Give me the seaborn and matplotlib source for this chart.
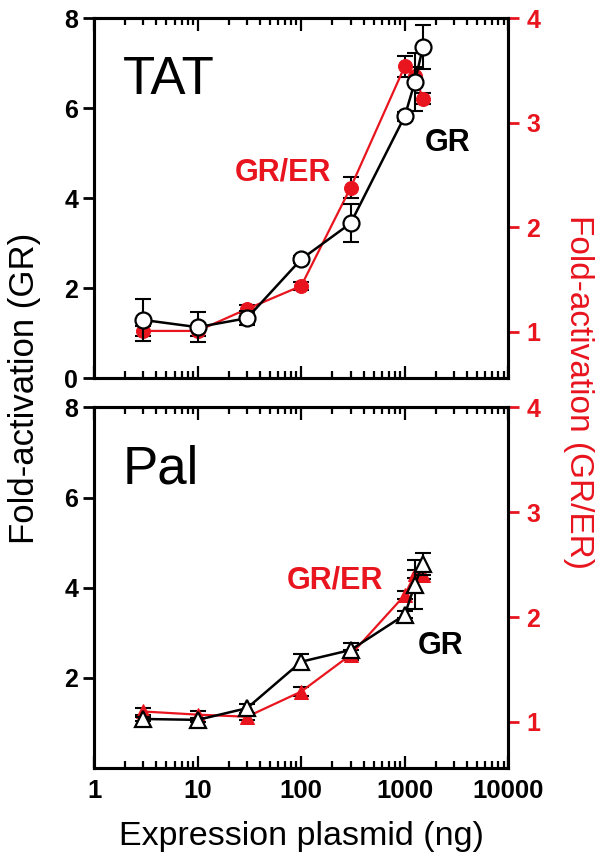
import matplotlib
matplotlib.use("Agg")
import matplotlib.pyplot as plt
import seaborn as sns
import pandas as pd

sns.set_theme(style="ticks")
plt.rcParams['font.family'] = ['Liberation Sans', 'DejaVu Sans']
plt.rcParams.update({'text.color': 'black', 'axes.labelcolor': 'black',
                     'xtick.color': 'black', 'ytick.color': 'black'})

RED = '#e8141e'

# plasmid amounts (ng)
plasmid_ng = [3, 10, 30, 100, 300, 1000, 1250, 1500]

# TAT panel
tat_gr = [1.29, 1.13, 1.33, 2.64, 3.44, 5.82, 6.58, 7.36]
tat_gr_err = [0.47, 0.33, 0.15, 0.08, 0.42, 0.10, 0.65, 0.48]
tat_grer = [1.01, 1.01, 1.22, 1.44, 2.38, 3.54, 3.45, 3.23]
tat_grer_err = [0.05, 0.05, 0.04, 0.04, 0.10, 0.10, 0.08, 0.05]

# Pal panel
pal_gr = [1.09, 1.07, 1.33, 2.36, 2.62, 3.40, 4.07, 4.53]
pal_gr_err = [0.05, 0.04, 0.10, 0.17, 0.15, 0.08, 0.55, 0.25]
pal_grer = [1.10, 1.07, 1.05, 1.29, 1.64, 2.21, 2.41, 2.40]
pal_grer_err = [0.03, 0.03, 0.03, 0.04, 0.05, 0.04, 0.04, 0.04]

xticks = [1, 10, 100, 1000, 10000]
xtick_labels = ['1', '10', '100', '1000', '10000']


def draw_panel(ax, gr, gr_err, grer, grer_err, marker, name, show_zero):
    df = pd.DataFrame({'ng': plasmid_ng, 'gr': gr, 'grer': grer})
    tw = ax.twinx()
    # red series on the right axis
    tw.errorbar(plasmid_ng, grer, yerr=grer_err, fmt='none', ecolor='black',
                elinewidth=1.5, capsize=6, capthick=1.5, zorder=1)
    sns.lineplot(data=df, x='ng', y='grer', ax=tw, color=RED, lw=1.6,
                 marker=marker, markersize=10, markerfacecolor=RED,
                 markeredgecolor=RED, zorder=2)
    # black series on the left axis, drawn above
    ax.set_zorder(tw.get_zorder() + 1)
    ax.patch.set_visible(False)
    ax.errorbar(plasmid_ng, gr, yerr=gr_err, fmt='none', ecolor='black',
                elinewidth=1.5, capsize=6, capthick=1.5, zorder=1)
    sns.lineplot(data=df, x='ng', y='gr', ax=ax, color='black', lw=1.8,
                 marker=marker, markersize=11.5, markerfacecolor='white',
                 markeredgecolor='black', markeredgewidth=1.6, zorder=3)

    ax.set_xscale('log')
    ax.set_xlim(1, 10000)
    ax.set_ylim(0, 8)
    ax.set_yticks([0, 2, 4, 6, 8] if show_zero else [2, 4, 6, 8])
    tw.set_ylim(0.56, 4)
    tw.set_yticks([1, 2, 3, 4])
    ax.set_xlabel('')
    ax.set_ylabel('')
    tw.set_ylabel('')

    for a in (ax, tw):
        for s in a.spines.values():
            s.set_linewidth(2.2)
            s.set_color('black')
            s.set_visible(True)

    ax.tick_params(axis='x', which='both', direction='in', top=True, bottom=True, width=1.6)
    ax.tick_params(axis='x', which='major', length=9)
    ax.tick_params(axis='x', which='minor', length=5)
    ax.tick_params(axis='y', direction='out', length=8, width=2, labelsize=18)
    tw.tick_params(axis='y', direction='out', length=8, width=2, color=RED,
                   labelcolor=RED, labelsize=18, pad=5)
    for lab in ax.get_yticklabels() + tw.get_yticklabels():
        lab.set_fontweight('bold')

    ax.text(0.07, 0.79, name, transform=ax.transAxes, fontsize=38, va='baseline')
    return tw


fig = plt.figure(figsize=(6.03, 8.65), dpi=100)
ax1 = fig.add_axes([0.156, 0.563, 0.687, 0.416])
ax2 = fig.add_axes([0.156, 0.112, 0.687, 0.417])

draw_panel(ax1, tat_gr, tat_gr_err, tat_grer, tat_grer_err, 'o', 'TAT', True)
draw_panel(ax2, pal_gr, pal_gr_err, pal_grer, pal_grer_err, '^', 'Pal', False)

ax1.set_xticks(xticks)
ax1.set_xticklabels([])
ax2.set_xticks(xticks)
ax2.set_xticklabels(xtick_labels, fontsize=18.5, fontweight='bold')
ax2.tick_params(axis='x', which='major', pad=8)

ax1.text(0.457, 0.572, 'GR/ER', transform=ax1.transAxes, color=RED, fontsize=22,
         fontweight='bold', ha='center', va='center')
ax1.text(0.853, 0.653, 'GR', transform=ax1.transAxes, color='black', fontsize=22,
         fontweight='bold', ha='center', va='center')
ax2.text(0.582, 0.521, 'GR/ER', transform=ax2.transAxes, color=RED, fontsize=22,
         fontweight='bold', ha='center', va='center')
ax2.text(0.836, 0.338, 'GR', transform=ax2.transAxes, color='black', fontsize=22,
         fontweight='bold', ha='center', va='center')

fig.text(0.041, 0.551, 'Fold-activation (GR)', rotation=90, fontsize=25,
         ha='center', va='center')
fig.text(0.959, 0.547, 'Fold-activation (GR/ER)', rotation=270, fontsize=24,
         color=RED, ha='center', va='center')
fig.text(0.5, 0.033, 'Expression plasmid (ng)', fontsize=24.5, ha='center', va='center')

fig.savefig('out.png', dpi=100, facecolor='white')
plt.close(fig)
